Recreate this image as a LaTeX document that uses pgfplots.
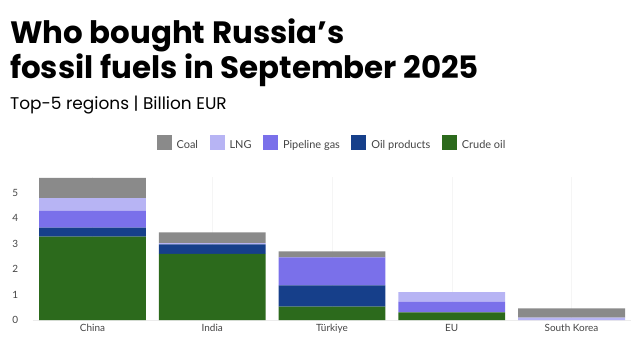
\documentclass[border=0pt]{standalone}
\usepackage{fontspec}
\setmainfont{Lato}
\newfontfamily\titlefont{Poppins}
\usepackage{pgfplots}
\pgfplotsset{compat=1.18}
\definecolor{coal}{HTML}{8A8A8A}
\definecolor{lng}{HTML}{B7B4F4}
\definecolor{pipe}{HTML}{7A70EA}
\definecolor{oilp}{HTML}{163F8A}
\definecolor{crude}{HTML}{2C6A1C}
\definecolor{ticktxt}{HTML}{444444}
\begin{document}
\begin{tikzpicture}[x=1bp,y=1bp]
\path[use as bounding box] (0,0) rectangle (635,354);
\node[anchor=base west, inner sep=0] at (10,311) {\titlefont\bfseries\fontsize{31}{31}\selectfont Who bought Russia’s};
\node[anchor=base west, inner sep=0] at (10,276) {\titlefont\bfseries\fontsize{31}{31}\selectfont fossil fuels in September 2025};
\node[anchor=base west, inner sep=0] at (10,245) {\titlefont\fontsize{17}{17}\selectfont Top-5 regions | Billion EUR};
\begin{axis}[
  at={(32.6bp,34bp)}, anchor=south west,
  scale only axis, width=598.8bp, height=142.8bp,
  xmin=-0.5, xmax=4.5, ymin=0, ymax=5.6,
  ybar stacked, bar width=0.893,
  axis x line*=bottom, axis y line*=left,
  x axis line style={draw=gray!15},
  y axis line style={draw=none},
  xtick={0,1,2,3,4},
  xticklabels={China,India,Türkiye,EU,South Korea},
  ytick={0,1,2,3,4,5},
  major tick length=0pt,
  xmajorgrids, grid style={draw=gray!8},
  /pgf/number format/assume math mode=true,
  tick label style={font=\fontsize{10}{10}\selectfont, text=ticktxt},
  xticklabel style={yshift=-1bp},
  yticklabel style={xshift=-11bp},
  legend style={at={(0.5,1.238)}, anchor=center, draw=none, fill=none,
    font=\fontsize{11}{11}\selectfont, text=ticktxt,
    /tikz/every even column/.append style={column sep=9.5bp},
    /tikz/every odd column/.append style={column sep=3bp}},
  legend columns=5, reverse legend,
  legend image code/.code={\fill[#1] (0bp,-4.5bp) rectangle (15bp,10.5bp);},
]
\addplot[fill=crude, draw=none] coordinates {(0,3.27) (1,2.59) (2,0.52) (3,0.30) (4,0)};
\addlegendentry{Crude oil}
\addplot[fill=oilp, draw=none] coordinates {(0,0.35) (1,0.38) (2,0.84) (3,0) (4,0)};
\addlegendentry{Oil products}
\addplot[fill=pipe, draw=none] coordinates {(0,0.67) (1,0) (2,1.10) (3,0.42) (4,0)};
\addlegendentry{Pipeline gas}
\addplot[fill=lng, draw=none] coordinates {(0,0.49) (1,0.04) (2,0) (3,0.37) (4,0.09)};
\addlegendentry{LNG}
\addplot[fill=coal, draw=none] coordinates {(0,0.79) (1,0.43) (2,0.23) (3,0) (4,0.37)};
\addlegendentry{Coal}
\end{axis}
\end{tikzpicture}
\end{document}
